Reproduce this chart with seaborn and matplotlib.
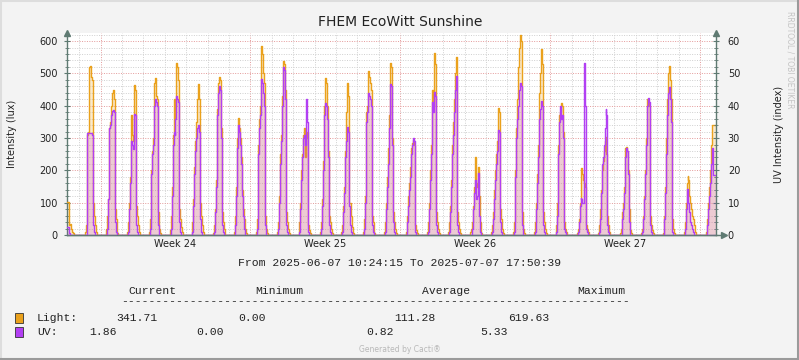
import pandas as pd
import matplotlib
matplotlib.use('Agg')
import matplotlib.pyplot as plt
import matplotlib.dates as mdates
from matplotlib.ticker import MultipleLocator, NullFormatter
from matplotlib.lines import Line2D
from matplotlib.patches import Rectangle
from matplotlib.transforms import blended_transform_factory
import seaborn as sns

sns.set_style('white')
plt.rcParams['font.family'] = ['DejaVu Sans']

ORANGE = '#EAA11C'
PURPLE = '#B23FF3'
AXIS_C = '#5f7a72'
BG = '#f3f3f3'

# ── Data ──────────────────────────────────────────────────────────────────────
t_start = pd.Timestamp('2025-06-07 10:24:15')
t_end = pd.Timestamp('2025-07-07 17:50:39')

# partial first day (from 10:24 up to 20h)
first_hours = [10.404, 11, 12, 13, 14, 15, 16, 17, 18, 19, 20]
first_light = [103, 103, 103, 30, 35, 20, 10, 5, 0, 0, 0]
first_uv = [2.5, 2.5, 2.5, 0.5, 0, 0, 0, 0, 0, 0, 0]

# full days 2025-06-08 .. 2025-07-06, hourly 5h .. 20h
day_hours = list(range(5, 21))
full_days = pd.date_range('2025-06-08', '2025-07-06', freq='D')
light_hourly = [
    [0, 0, 10, 30, 310, 320, 520, 523, 490, 480, 470, 100, 60, 30, 10, 0],
    [0, 20, 60, 110, 230, 330, 350, 400, 440, 450, 420, 80, 50, 20, 5, 0],
    [0, 10, 40, 100, 180, 370, 310, 290, 440, 464, 450, 90, 60, 30, 10, 0],
    [0, 10, 50, 120, 200, 260, 300, 470, 485, 430, 420, 70, 40, 20, 5, 0],
    [0, 15, 60, 150, 310, 420, 360, 400, 531, 520, 480, 80, 50, 25, 10, 0],
    [0, 10, 40, 110, 210, 290, 350, 420, 467, 420, 300, 100, 60, 30, 10, 0],
    [0, 5, 30, 80, 170, 310, 390, 470, 490, 480, 330, 70, 40, 20, 5, 0],
    [0, 10, 60, 150, 300, 362, 330, 300, 240, 190, 140, 80, 50, 20, 5, 0],
    [0, 10, 50, 130, 280, 360, 400, 585, 560, 500, 470, 60, 40, 20, 5, 0],
    [0, 10, 40, 120, 250, 310, 430, 500, 538, 530, 450, 70, 40, 20, 5, 0],
    [0, 10, 40, 100, 200, 250, 310, 331, 240, 300, 320, 60, 30, 15, 5, 0],
    [0, 10, 40, 110, 230, 300, 400, 485, 470, 400, 260, 60, 40, 20, 5, 0],
    [0, 10, 30, 90, 150, 260, 380, 469, 430, 380, 100, 100, 60, 25, 5, 0],
    [0, 10, 50, 120, 280, 380, 400, 507, 490, 470, 450, 60, 40, 20, 5, 0],
    [0, 10, 40, 100, 180, 270, 370, 480, 531, 520, 300, 70, 40, 20, 5, 0],
    [0, 10, 30, 60, 120, 160, 210, 270, 285, 294, 280, 60, 30, 15, 5, 0],
    [0, 10, 40, 100, 200, 280, 350, 450, 400, 562, 530, 70, 40, 20, 5, 0],
    [0, 10, 40, 90, 170, 280, 350, 420, 500, 551, 520, 70, 40, 20, 5, 0],
    [0, 10, 20, 40, 60, 90, 150, 241, 160, 150, 211, 120, 40, 15, 5, 0],
    [0, 10, 30, 70, 140, 200, 250, 290, 330, 393, 380, 80, 50, 20, 5, 0],
    [0, 10, 40, 100, 200, 330, 420, 520, 580, 618, 600, 70, 40, 20, 5, 0],
    [0, 10, 40, 100, 190, 280, 350, 440, 500, 575, 530, 70, 40, 20, 5, 0],
    [0, 10, 30, 100, 280, 370, 380, 409, 400, 320, 100, 40, 20, 10, 0, 0],
    [0, 5, 20, 50, 100, 150, 207, 190, 170, 160, 150, 30, 20, 10, 0, 0],
    [0, 5, 30, 80, 140, 200, 230, 260, 290, 304, 250, 60, 30, 10, 0, 0],
    [0, 5, 20, 40, 70, 100, 150, 270, 272, 260, 200, 80, 40, 15, 5, 0],
    [0, 5, 20, 60, 120, 200, 300, 380, 420, 410, 400, 60, 30, 15, 5, 0],
    [0, 5, 20, 60, 150, 300, 420, 500, 523, 480, 420, 80, 50, 20, 5, 0],
    [0, 10, 40, 100, 160, 182, 170, 120, 100, 80, 60, 50, 30, 10, 0, 0],
]
uv_hourly = [
    [0, 0, 0, 0, 31.6, 31.6, 31.6, 31.6, 31.5, 31, 30, 3, 1, 0, 0, 0],
    [0, 0, 2, 11, 23, 33, 34, 37, 38.5, 38.7, 38, 4, 1, 0, 0, 0],
    [0, 0, 1, 8, 16, 29, 28, 26.5, 36, 37.4, 37, 3, 1, 0, 0, 0],
    [0, 0, 2, 11, 19, 25, 28, 40, 42.1, 41, 40, 3, 1, 0, 0, 0],
    [0, 0, 2, 12, 28, 32, 31, 36, 43, 42, 41, 4, 1, 0, 0, 0],
    [0, 0, 1, 9, 19, 26, 30, 33, 34, 32, 27, 5, 1, 0, 0, 0],
    [0, 0, 1, 7, 15, 29, 37, 44, 46.2, 45, 30, 3, 1, 0, 0, 0],
    [0, 0, 3, 12, 27, 34, 32, 28, 22, 17, 12, 6, 2, 0, 0, 0],
    [0, 0, 2, 11, 25, 33, 37, 48.2, 47, 44, 40, 3, 1, 0, 0, 0],
    [0, 0, 2, 10, 22, 29, 40, 48, 52.1, 51, 42, 3, 1, 0, 0, 0],
    [0, 0, 1, 8, 17, 24, 30, 31, 28, 42.1, 35, 3, 1, 0, 0, 0],
    [0, 0, 2, 9, 20, 29, 37, 40.9, 40, 36, 24, 3, 1, 0, 0, 0],
    [0, 0, 1, 7, 13, 24, 29, 33.5, 32, 28, 9, 3, 1, 0, 0, 0],
    [0, 0, 2, 10, 25, 35, 38, 44, 43, 42, 40, 3, 1, 0, 0, 0],
    [0, 0, 1, 8, 15, 22, 33, 36, 46.7, 46, 28, 4, 1, 0, 0, 0],
    [0, 0, 1, 4, 9, 14, 18, 25, 28, 30, 29, 3, 1, 0, 0, 0],
    [0, 0, 1, 8, 17, 25, 31, 41, 38, 44.3, 43, 3, 1, 0, 0, 0],
    [0, 0, 1, 7, 15, 25, 31, 38, 45, 49.3, 47, 3, 1, 0, 0, 0],
    [0, 0, 0, 2, 5, 8, 13, 17, 11, 12, 19.2, 6, 1, 0, 0, 0],
    [0, 0, 1, 5, 11, 17, 22, 26, 30, 32.5, 32, 4, 1, 0, 0, 0],
    [0, 0, 1, 8, 18, 30, 36, 40, 45, 47.1, 46, 3, 1, 0, 0, 0],
    [0, 0, 1, 8, 16, 24, 30, 36, 39, 41.5, 40, 3, 1, 0, 0, 0],
    [0, 0, 1, 6, 25, 35, 39.9, 36, 37, 30, 8, 2, 1, 0, 0, 0],
    [0, 0, 1, 4, 9, 11.3, 11, 10, 9.9, 53.1, 40, 2, 1, 0, 0, 0],
    [0, 0, 1, 5, 13, 22, 24, 28, 33, 39, 37, 3, 1, 0, 0, 0],
    [0, 0, 0, 2, 5, 8, 13, 24, 26.9, 26, 19, 4, 1, 0, 0, 0],
    [0, 0, 1, 5, 11, 19, 28, 36, 40, 42.3, 41, 3, 1, 0, 0, 0],
    [0, 0, 1, 5, 13, 25, 37, 44, 45.9, 42, 35, 4, 1, 0, 0, 0],
    [0, 0, 2, 8, 14.2, 13, 10, 7, 4, 3, 2, 1, 0, 0, 0, 0],
]

# partial last day (5h .. 17h, then end 17:50)
last_hours = [5, 6, 7, 8, 9, 10, 11, 12, 13, 14, 15, 16, 17, 17.84]
last_light = [0, 0, 10, 50, 100, 150, 200, 280, 340, 340, 340, 340, 340, 341.71]
last_uv = [0, 0, 0, 3, 8, 12, 16, 22, 26.9, 18.5, 18.5, 18.5, 18.5, 18.6]

stat_cols = ['Current', 'Minimum', 'Average', 'Maximum']
light_stats = ['341.71', '0.00', '111.28', '619.63']
uv_stats = ['1.86', '0.00', '0.82', '5.33']

# ── Build frame ───────────────────────────────────────────────────────────────
times, light, uv = [], [], []
d0 = pd.Timestamp('2025-06-07')
for h, l, u in zip(first_hours, first_light, first_uv):
    times.append(d0 + pd.Timedelta(hours=h)); light.append(l); uv.append(u)
times[0] = t_start
for day, lrow, urow in zip(full_days, light_hourly, uv_hourly):
    for h, l, u in zip(day_hours, lrow, urow):
        times.append(day + pd.Timedelta(hours=h)); light.append(l); uv.append(u)
dl = pd.Timestamp('2025-07-07')
for h, l, u in zip(last_hours, last_light, last_uv):
    times.append(dl + pd.Timedelta(hours=h)); light.append(l); uv.append(u)
times[-1] = t_end
df = pd.DataFrame({'time': times, 'light': light, 'uv': uv})

# ── Figure ────────────────────────────────────────────────────────────────────
W, H = 799, 360
fig = plt.figure(figsize=(W / 100, H / 100), dpi=100, facecolor=BG)
ax = fig.add_axes([67 / W, 1 - 235 / H, (716 - 67) / W, (235 - 33) / H])
ax.set_facecolor('white')

ax.fill_between(df['time'], df['light'], step='post', color=ORANGE,
                alpha=0.22, lw=0, zorder=2)
sns.lineplot(data=df, x='time', y='light', ax=ax, color=ORANGE, lw=1,
             drawstyle='steps-post', estimator=None, zorder=3)

ax2 = ax.twinx()
ax2.fill_between(df['time'], df['uv'], step='post', color=PURPLE,
                 alpha=0.18, lw=0, zorder=2)
sns.lineplot(data=df, x='time', y='uv', ax=ax2, color=PURPLE, lw=1,
             drawstyle='steps-post', estimator=None, zorder=3)

ax.set_xlim(t_start, t_end)
ax.set_ylim(0, 625)
ax2.set_ylim(0, 62.5)

# grid
ax.xaxis.set_major_locator(mdates.WeekdayLocator(byweekday=mdates.MO))
ax.xaxis.set_minor_locator(mdates.DayLocator())
ax.xaxis.set_major_formatter(NullFormatter())
ax.yaxis.set_major_locator(MultipleLocator(100))
ax.yaxis.set_minor_locator(MultipleLocator(20))
ax2.yaxis.set_major_locator(MultipleLocator(10))
ax2.yaxis.set_minor_locator(MultipleLocator(2))
ax.grid(which='minor', color='#cfcfcf', ls=(0, (1, 1.5)), lw=0.7)
ax.grid(which='major', color='#e49a9a', ls=(0, (1, 1.5)), lw=0.7)
ax.set_axisbelow(True)

for a in (ax, ax2):
    a.set_xlabel('')
    a.set_ylabel('')
    for s in a.spines.values():
        s.set_visible(False)
ax.spines['left'].set_visible(True)
ax.spines['bottom'].set_visible(True)
ax2.spines['right'].set_visible(True)
for s in (ax.spines['left'], ax.spines['bottom'], ax2.spines['right']):
    s.set_color(AXIS_C)
    s.set_linewidth(1)

ax.tick_params(axis='y', which='major', direction='inout', length=5,
               color=AXIS_C, labelsize=7, labelcolor='#222222', pad=4)
ax.tick_params(axis='y', which='minor', direction='inout', length=3,
               color=AXIS_C)
ax.tick_params(axis='x', which='both', length=0)
ax2.tick_params(axis='y', which='major', direction='inout', length=5,
                color=AXIS_C, labelsize=7, labelcolor='#222222', pad=6)
ax2.tick_params(axis='y', which='minor', direction='inout', length=3,
                color=AXIS_C)

# axis arrows
ax.plot([0], [1.0], marker='^', color=AXIS_C, ms=4, transform=ax.transAxes,
        clip_on=False, zorder=6)
ax.plot([1.0], [1.0], marker='^', color=AXIS_C, ms=4, transform=ax.transAxes,
        clip_on=False, zorder=6)
ax.plot([1.012], [0], marker='>', color=AXIS_C, ms=4, transform=ax.transAxes,
        clip_on=False, zorder=6)
ax.plot([0, 1.012], [0, 0], color=AXIS_C, lw=1, transform=ax.transAxes,
        clip_on=False, zorder=6)

# week labels centred in each week
tr = blended_transform_factory(ax.transData, ax.transAxes)
for m in pd.date_range('2025-06-09', '2025-06-30', freq='7D'):
    mid = m + pd.Timedelta(days=3.5)
    ax.text(mdates.date2num(mid), -0.045, f'Week {m.isocalendar().week}',
            transform=tr, ha='center', va='center', fontsize=7,
            color='#222222')

# titles and labels
fig.text(400 / W, 1 - 22 / H, 'FHEM EcoWitt Sunshine', ha='center',
         va='center', fontsize=10, color='#222222')
fig.text(12 / W, 1 - 134 / H, 'Intensity (lux)', rotation=90, ha='center',
         va='center', fontsize=7, color='#222222')
fig.text(779 / W, 1 - 134 / H, 'UV Intensity (index)', rotation=90,
         ha='center', va='center', fontsize=7, color='#222222')
fig.text(790 / W, 1 - 60 / H, 'RRDTOOL / TOBI OETIKER', rotation=270,
         ha='center', va='center', fontsize=5.5, color='#c4c4c4')

# legend block
mono = 'Liberation Mono'
fig.text(400 / W, 1 - 263 / H,
         f"From {t_start:%Y-%m-%d %H:%M:%S} To {t_end:%Y-%m-%d %H:%M:%S}",
         ha='center', va='center', fontsize=8.2, family=mono,
         color='#222222')
for name, cx in zip(stat_cols, [152, 279, 446, 601]):
    fig.text(cx / W, 1 - 291 / H, name, ha='center', va='center',
             fontsize=8.2, family=mono, color='#222222')
fig.text(121 / W, 1 - 301 / H, '-' * 74, ha='left', va='center',
         fontsize=8.2, family=mono, color='#222222')

rows = [('Light:', ORANGE, light_stats, [116, 238, 394, 508], 318),
        ('UV:', PURPLE, uv_stats, [89, 196, 366, 480], 332)]
for label, col, vals, xs, y in rows:
    fig.add_artist(Rectangle((15 / W, 1 - (y + 5) / H), 8 / W, 10 / H,
                             transform=fig.transFigure, facecolor=col,
                             edgecolor='#333333', lw=0.6))
    fig.text(37 / W, 1 - y / H, label, ha='left', va='center',
             fontsize=8.2, family=mono, color='#222222')
    for v, x in zip(vals, xs):
        fig.text(x / W, 1 - y / H, v, ha='left', va='center',
                 fontsize=8.2, family=mono, color='#222222')

fig.text(400 / W, 1 - 349 / H, 'Generated by Cacti®', ha='center',
         va='center', fontsize=5.5, color='#b8b8b8')

# bevel border
fig.add_artist(Line2D([0, 1], [0.998, 0.998], color='#dddddd', lw=1.5,
                      transform=fig.transFigure))
fig.add_artist(Line2D([0.001, 0.001], [0, 1], color='#dddddd', lw=1.5,
                      transform=fig.transFigure))
fig.add_artist(Line2D([0, 1], [0.002, 0.002], color='#9a9a9a', lw=1.5,
                      transform=fig.transFigure))
fig.add_artist(Line2D([0.999, 0.999], [0, 1], color='#9a9a9a', lw=1.5,
                      transform=fig.transFigure))

fig.savefig('out.png', dpi=100, facecolor=BG)
